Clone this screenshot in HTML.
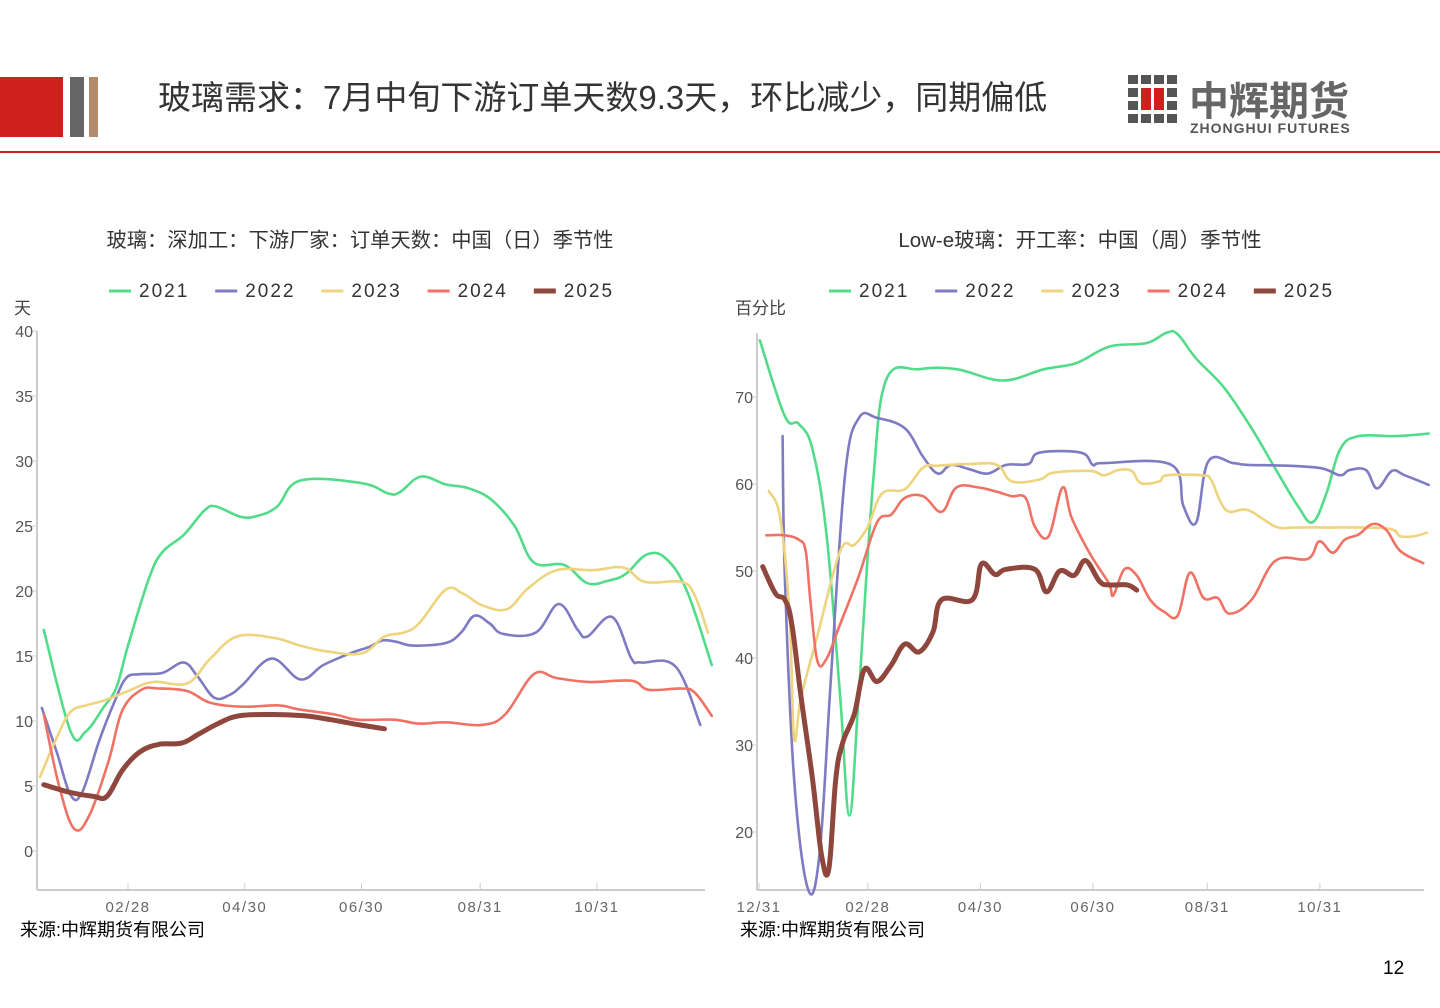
<!DOCTYPE html>
<html><head><meta charset="utf-8">
<style>
body{margin:0;width:1440px;height:1008px;background:#fff;overflow:hidden;font-family:"Liberation Sans","Noto Sans CJK SC",sans-serif;position:relative}
.abs{position:absolute}
</style></head><body>
<div class="abs" style="left:0;top:77px;width:63px;height:60px;background:#d0201b"></div>
<div class="abs" style="left:70px;top:77px;width:14px;height:60px;background:#666"></div>
<div class="abs" style="left:89px;top:77px;width:9px;height:60px;background:#b48a6c"></div>
<div class="abs" style="left:158px;top:71px;font-size:33px;color:#333;white-space:nowrap;font-family:'Liberation Sans','Noto Sans CJK SC',sans-serif">玻璃需求：7月中旬下游订单天数9.3天，环比减少，同期偏低</div>
<div class="abs" style="left:1128px;top:74px;width:230px;height:64px">
<svg width="60" height="62" style="position:absolute;left:0;top:0">
<g fill="#555">
<rect x="0" y="1" width="10" height="9"/><rect x="13" y="1" width="10" height="9"/><rect x="26" y="1" width="10" height="9"/><rect x="39" y="1" width="10" height="9"/>
<rect x="0" y="14" width="10" height="9"/><rect x="39" y="14" width="10" height="9"/>
<rect x="0" y="27" width="10" height="9"/><rect x="39" y="27" width="10" height="9"/>
<rect x="0" y="40" width="10" height="9"/><rect x="13" y="40" width="10" height="9"/><rect x="26" y="40" width="10" height="9"/><rect x="39" y="40" width="10" height="9"/>
</g>
<rect x="13" y="14" width="10" height="22" fill="#d0201b"/><rect x="26" y="14" width="10" height="22" fill="#d0201b"/>
</svg>
<div style="position:absolute;left:61px;top:-5px;font-size:40px;font-weight:bold;color:#666;white-space:nowrap">中辉期货</div>
<div style="position:absolute;left:62px;top:46px;font-size:14px;font-weight:bold;color:#555;letter-spacing:1px;white-space:nowrap">ZHONGHUI FUTURES</div>
</div>
<div class="abs" style="left:0;top:151px;width:1440px;height:2px;background:#c8201c"></div>

<svg class="abs" style="left:0;top:0" width="1440" height="1008" id="charts"></svg>

<div class="abs" style="left:20px;top:916px;font-size:18px;color:#000">来源:中辉期货有限公司</div>
<div class="abs" style="left:740px;top:916px;font-size:18px;color:#000">来源:中辉期货有限公司</div>
<div class="abs" style="left:1383px;top:958px;font-size:19px;color:#000">12</div>

<script>
// ---------- Left chart data (day-of-year, value in days) ----------
const seriesNames = ["2021","2022","2023","2024","2025"];
const seriesColors = ["#52dc8a","#7e7bc2","#eed47e","#ef7265","#8e463d"];
const leftYTicks = [0,5,10,15,20,25,30,35,40];
const leftXTickDays = [59,120,181,243,304];
const xTickLabels = ["02/28","04/30","06/30","08/31","10/31"];

const L2021d = [15,29,37,46,53,59,70,77,88,99,105,118,127,137,149,181,195,201,212,225,237,249,261,271,287,299,310,319,330,340,351,364];
const L2021v = [17,9.2,9.2,11,12.6,15.8,21,23,24.3,26.2,26.5,25.7,25.8,26.5,28.5,28.3,27.5,27.6,28.8,28.2,27.9,27,25,22.2,22,20.6,20.8,21.3,22.8,22.5,20,14.3];
const L2022d = [14,22,29,35,44,52,58,65,77,88,95,104,112,119,134,149,161,175,185,192,199,208,225,233,240,248,255,272,284,294,299,312,322,327,345,358];
const L2022v = [11,7.5,4.3,4.5,8.5,11.5,13.3,13.6,13.7,14.5,13.5,11.8,12,12.8,14.8,13.2,14.3,15.2,15.7,16.2,16.1,15.8,16,16.8,18.1,17.5,16.7,16.8,19,17,16.5,18,14.8,14.5,14.2,9.7];
const L2023d = [13,22,29,37,47,59,72,90,102,116,135,149,161,181,193,203,211,225,234,244,257,268,283,302,318,329,348,355,362];
const L2023v = [5.7,8.8,10.7,11.2,11.6,12.3,13,12.9,14.8,16.5,16.4,15.8,15.4,15.2,16.5,16.8,17.5,20.1,19.8,18.9,18.6,20.2,21.6,21.6,21.8,20.7,20.7,19.7,16.8];
const L2024d = [15,23,31,39,49,56,66,75,90,102,119,138,148,167,179,198,211,225,244,256,271,283,300,322,331,348,355,364];
const L2024v = [10.5,5,1.7,2.8,7,10.8,12.4,12.5,12.3,11.4,11.1,11.2,10.9,10.5,10.1,10.1,9.8,9.9,9.7,10.5,13.6,13.3,13,13.1,12.4,12.5,12.2,10.4];
const L2025d = [15,29,41,48,56,65,75,87,96,106,117,135,151,165,180,193];
const L2025v = [5.1,4.5,4.2,4.2,6.2,7.6,8.2,8.3,9,9.8,10.4,10.5,10.4,10.1,9.7,9.4];

// ---------- Right chart data (days since 12/31, utilisation %) ----------
const rightYTicks = [20,30,40,50,60,70];
const rightXTickDays = [0,59,120,181,243,304];
const rightXTickLabels = ["12/31","02/28","04/30","06/30","08/31","10/31"];

const R2021d = [0.5,14,21.6,29,36.6,44,49,54,61.7,69,87,107,132,154.5,172,190,210,221,227,237,252,267,280,292,300,307.5,315,325,345,363];
const R2021v = [76.5,67.8,66.9,64,54.2,35.5,21.9,35.5,59.8,72,73.2,73.2,71.9,73.2,73.9,75.8,76.2,77.4,77.2,74.4,71.1,66.4,61.7,57.5,55.6,58.9,64,65.5,65.5,65.8];
const R2022d = [12.8,14,19,26.6,32.9,39,46.7,54.2,64,79,89,97,104,114,124,134,146,152,174.5,181,187,223.5,230,237,243.5,257,265,287,305,315,320,329,335,343,350,363];
const R2022v = [65.5,49.5,26.1,13.4,17.7,37.8,61.2,67.6,67.6,66.4,63.1,61.2,62.2,61.7,61.2,62.2,62.3,63.6,63.6,62.2,62.4,62.2,57.5,55.6,62.6,62.4,62.2,62.1,61.8,61,61.6,61.6,59.5,61.5,61,59.9];
const R2023d = [5.3,11.5,16.6,19,22.8,31.6,44,51.7,59,66.7,79,89,97,114,129,137,152,159.5,179.6,187,194.6,202,207,217,221,240,245,250,255,265,280,290,305,340,347.6,355,362];
const R2023v = [59.2,56.1,44.8,30.8,35.5,42.5,52.3,53,55.1,58.9,59.4,61.9,62.1,62.3,62.2,60.3,60.5,61.3,61.5,61,61.6,61.5,60.1,60.3,61,61,60.5,58,56.8,57,55.1,55,55,54.9,54,54,54.4];
const R2024d = [4,14,21.6,25.3,27.8,31.6,36.6,44,54.2,64,71.7,79,89,99,107,119,129,137,144.5,149.5,157,164.5,169.5,179.6,189.6,192,198,204.7,212,219.7,227,233.5,241,248.6,255,267,280,297.5,303.7,311,317.5,325,332.6,340,347.6,360];
const R2024v = [54.1,54.1,53.6,52.3,46.7,39.7,39.9,43.9,49.5,55.6,56.5,58.4,58.6,56.8,59.6,59.6,59.1,58.6,58.4,55.1,54,59.6,56.1,51.9,48.6,47.2,50.2,49.5,46.7,45.3,44.9,49.8,46.9,46.9,45.1,46.7,51.2,51.4,53.4,52.1,53.6,54.2,55.4,54.7,52.3,50.9];
const R2025d = [2,9,14,17.8,22.8,29,34,37.9,41.6,45.4,51.7,57.2,64,71.7,79,86.8,94.3,99,115.6,120.6,128,134,149.5,155.8,163,170.8,177,184.6,189.6,199.6,204.7];
const R2025v = [50.5,47.4,46.7,43.9,35.5,26.1,17.2,15.8,26.1,30.3,33.6,38.7,37.3,39.2,41.6,40.7,43,46.7,46.7,50.8,49.6,50.2,50.2,47.6,50,49.5,51.2,48.8,48.4,48.4,47.8];

const svg = document.getElementById('charts');
const NS = "http://www.w3.org/2000/svg";
function mk(tag, attrs, parent){const e=document.createElementNS(NS,tag);for(const k in attrs)e.setAttribute(k,attrs[k]);(parent||svg).appendChild(e);return e;}
function smoothPath(pts){
  let d="M"+pts[0][0].toFixed(1)+","+pts[0][1].toFixed(1);
  const t=0.18;
  for(let i=0;i<pts.length-1;i++){
    const p0=pts[Math.max(0,i-1)],p1=pts[i],p2=pts[i+1],p3=pts[Math.min(pts.length-1,i+2)];
    const c1=[p1[0]+(p2[0]-p0[0])*t,p1[1]+(p2[1]-p0[1])*t];
    const c2=[p2[0]-(p3[0]-p1[0])*t,p2[1]-(p3[1]-p1[1])*t];
    d+=" C"+c1[0].toFixed(1)+","+c1[1].toFixed(1)+" "+c2[0].toFixed(1)+","+c2[1].toFixed(1)+" "+p2[0].toFixed(1)+","+p2[1].toFixed(1);
  }
  return d;
}
function txt(x,y,s,attrs,parent){const e=mk('text',Object.assign({x:x,y:y},attrs),parent);e.textContent=s;return e;}

function drawChart(cfg){
  const g=mk('g',{});
  
  
  const xs=d=>cfg.x0+(d-cfg.d0)*cfg.kx;
  const ys=v=>cfg.y0-(v-cfg.v0)*cfg.ky;
  const t=txt(cfg.titleX,247,cfg.title,{'font-size':cfg.titleSize,fill:'#333','text-anchor':'middle','font-family':'Liberation Sans, Noto Sans CJK SC, sans-serif'},g);
  
  
  seriesNames.forEach((n,i)=>{
    const lx=cfg.legendX+i*106.2;
    const lg=mk('g',{},g);
    
    
    mk('line',{x1:lx,x2:lx+22,y1:291,y2:291,stroke:seriesColors[i],'stroke-width':i==4?5:3},lg);
    txt(lx+30,297,n,{'font-size':19,fill:'#333','letter-spacing':'2px'},lg);
  });
  const u=txt(cfg.unitX,314,cfg.unit,{'font-size':17,fill:'#444','font-family':'Liberation Sans, Noto Sans CJK SC, sans-serif'},g);
  
  
  mk('line',{x1:cfg.axL,x2:cfg.axL,y1:cfg.axT,y2:cfg.axB,stroke:'#ccc','stroke-width':2},g);
  mk('line',{x1:cfg.axL,x2:cfg.axR,y1:cfg.axB,y2:cfg.axB,stroke:'#ccc','stroke-width':2},g);
  cfg.yTicks.forEach(v=>{
    const y=ys(v);
    mk('line',{x1:cfg.axL-5,x2:cfg.axL,y1:y,y2:y,stroke:'#ccc','stroke-width':1},g);
    const e=txt(cfg.axL-4,y+6,String(v),{'font-size':16,fill:'#555','text-anchor':'end'},g);
    
    
  });
  cfg.xTicks.forEach((d,i)=>{
    const x=xs(d);
    mk('line',{x1:x,x2:x,y1:cfg.axB-7,y2:cfg.axB,stroke:'#ccc','stroke-width':1},g);
    const e=txt(x,912,cfg.xLabels[i],{'font-size':15,fill:'#666','text-anchor':'middle','letter-spacing':'1.5px'},g);
    
    
  });
  cfg.series.forEach((s,i)=>{
    const pts=s[0].map((d,j)=>[xs(d),ys(s[1][j])]);
    const p=mk('path',{d:smoothPath(pts),fill:'none',stroke:seriesColors[i],'stroke-width':i==4?5:2.6,'stroke-linejoin':'round','stroke-linecap':'round'},g);
    
    
  });
}

drawChart({name:'left-chart-order-days',title:'玻璃：深加工：下游厂家：订单天数：中国（日）季节性',titleX:360,titleSize:20.3,legendX:109,unit:'天',unitX:14,
  x0:128,d0:59,kx:1.914,y0:851,v0:0,ky:13.0,axL:37,axR:705,axT:331,axB:890,
  yTicks:leftYTicks,xTicks:leftXTickDays,xLabels:xTickLabels,
  series:[[L2021d,L2021v],[L2022d,L2022v],[L2023d,L2023v],[L2024d,L2024v],[L2025d,L2025v]]});
drawChart({name:'right-chart-lowe-utilisation',title:'Low-e玻璃：开工率：中国（周）季节性',titleX:1080,titleSize:20.5,legendX:829,unit:'百分比',unitX:735,
  x0:759,d0:0,kx:1.845,y0:397,v0:70,ky:8.7,axL:757,axR:1424,axT:333,axB:890,
  yTicks:rightYTicks,xTicks:rightXTickDays,xLabels:rightXTickLabels,
  series:[[R2021d,R2021v],[R2022d,R2022v],[R2023d,R2023v],[R2024d,R2024v],[R2025d,R2025v]]});
</script>
</body></html>
